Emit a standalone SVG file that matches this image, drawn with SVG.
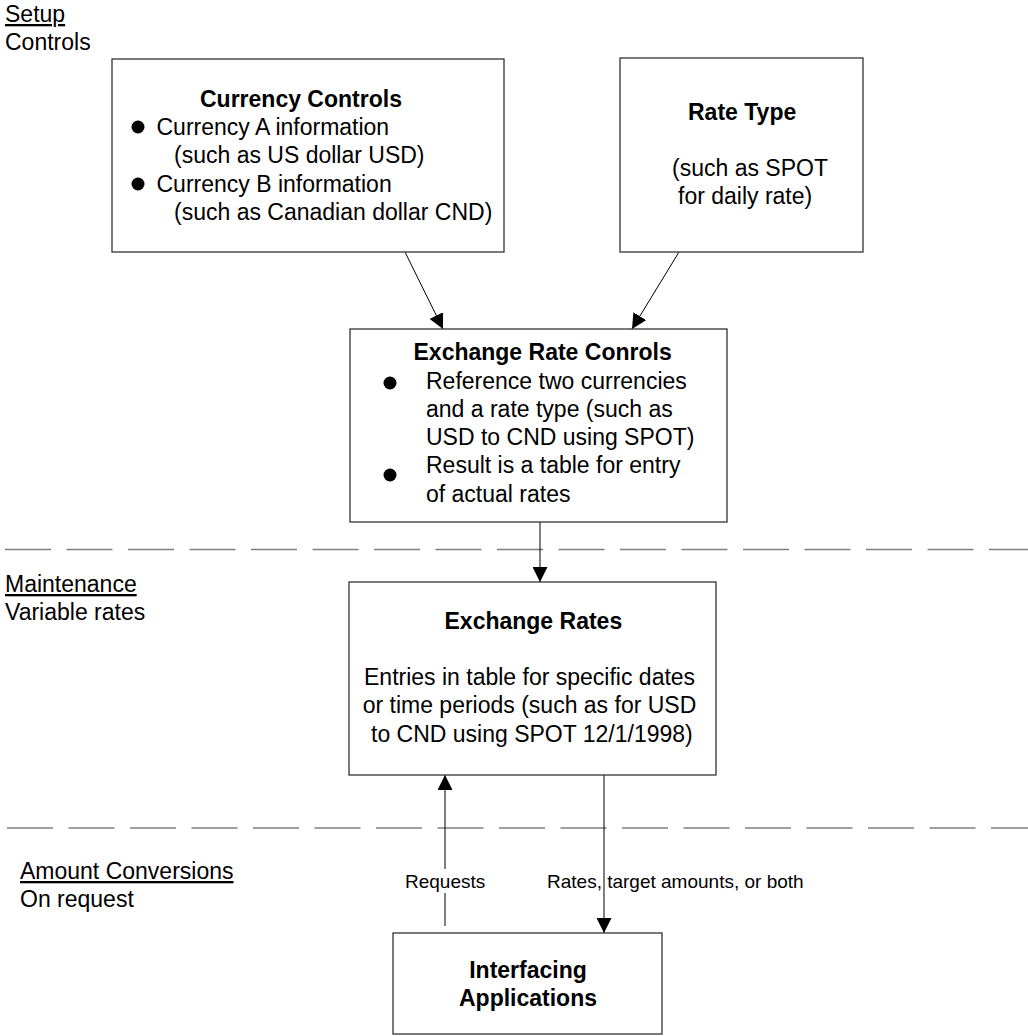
<svg xmlns="http://www.w3.org/2000/svg" width="1028" height="1036" viewBox="0 0 1028 1036">
<style>
text{font-family:"Liberation Sans",Arial,sans-serif;font-size:23px;fill:#000}
.b{font-weight:bold}
.m{text-anchor:middle}
.u{text-decoration:underline}
.sm{font-size:19px}
.box{fill:#fff;stroke:#333;stroke-width:1.3}
.conn{stroke:#000;stroke-width:1;fill:none}
.dash{stroke:#808080;stroke-width:1.5;stroke-dasharray:46 15.5;fill:none}
.dot{fill:#000}
</style>
<defs>
<marker id="ah" markerUnits="userSpaceOnUse" markerWidth="15" markerHeight="15" refX="15" refY="7.5" orient="auto">
<path d="M0,0 L15,7.5 L0,15 z" fill="#000"/>
</marker>
</defs>
<rect width="1028" height="1036" fill="#fff"/>
<g id="lanes">
<text x="5" y="22" class="u">Setup</text>
<text x="5" y="50">Controls</text>
<line class="dash" x1="5" y1="549.5" x2="1028" y2="549.5"/>
<text x="5" y="592" class="u">Maintenance</text>
<text x="5" y="619.5">Variable rates</text>
<line class="dash" x1="7" y1="828" x2="1028" y2="828"/>
<text x="20" y="879" class="u">Amount Conversions</text>
<text x="20" y="907">On request</text>
</g>
<g id="connectors">
<line class="conn" x1="405" y1="252" x2="443" y2="329" marker-end="url(#ah)"/>
<line class="conn" x1="679" y1="252" x2="632" y2="329" marker-end="url(#ah)"/>
<line class="conn" x1="540" y1="522" x2="540" y2="582" marker-end="url(#ah)"/>
<line class="conn" x1="445" y1="926" x2="445" y2="775" marker-end="url(#ah)"/>
<rect x="402" y="869" width="86" height="24" fill="#fff"/>
<text x="405" y="888" class="sm">Requests</text>
<line class="conn" x1="604" y1="775" x2="604" y2="933" marker-end="url(#ah)"/>
<text x="547" y="888" class="sm">Rates, target amounts, or both</text>
</g>
<g id="currency-controls">
<rect class="box" x="112" y="59" width="392" height="193"/>
<text x="200" y="106.5" class="b">Currency Controls</text>
<circle class="dot" cx="138" cy="127" r="6.5"/>
<text x="156.5" y="134.5">Currency A information</text>
<text x="174" y="163">(such as US dollar USD)</text>
<circle class="dot" cx="138" cy="184" r="6.5"/>
<text x="156.5" y="191.5">Currency B information</text>
<text x="174" y="220">(such as Canadian dollar CND)</text>
</g>
<g id="rate-type">
<rect class="box" x="620" y="58" width="243" height="194"/>
<text x="688" y="119.5" class="b">Rate Type</text>
<text x="672" y="175.5">(such as SPOT</text>
<text x="678" y="203.5">for daily rate)</text>
</g>
<g id="exchange-rate-controls">
<rect class="box" x="350" y="329" width="377" height="193"/>
<text x="413.5" y="360" class="b">Exchange Rate Conrols</text>
<circle class="dot" cx="390" cy="383" r="6.5"/>
<text x="426" y="388.5">Reference two currencies</text>
<text x="426" y="416.7">and a rate type (such as</text>
<text x="426" y="445">USD to CND using SPOT)</text>
<circle class="dot" cx="390" cy="475" r="6.5"/>
<text x="426" y="473.3">Result is a table for entry</text>
<text x="426" y="501.7">of actual rates</text>
</g>
<g id="exchange-rates">
<rect class="box" x="349" y="582" width="367" height="193"/>
<text x="444.5" y="629.3" class="b">Exchange Rates</text>
<text x="364" y="685">Entries in table for specific dates</text>
<text x="362.7" y="713.3">or time periods (such as for USD</text>
<text x="371" y="741.7">to CND using SPOT 12/1/1998)</text>
</g>
<g id="interfacing-applications">
<rect class="box" x="393" y="933" width="269" height="101"/>
<text x="528" y="978.3" class="b m">Interfacing</text>
<text x="528" y="1006" class="b m">Applications</text>
</g>
</svg>
